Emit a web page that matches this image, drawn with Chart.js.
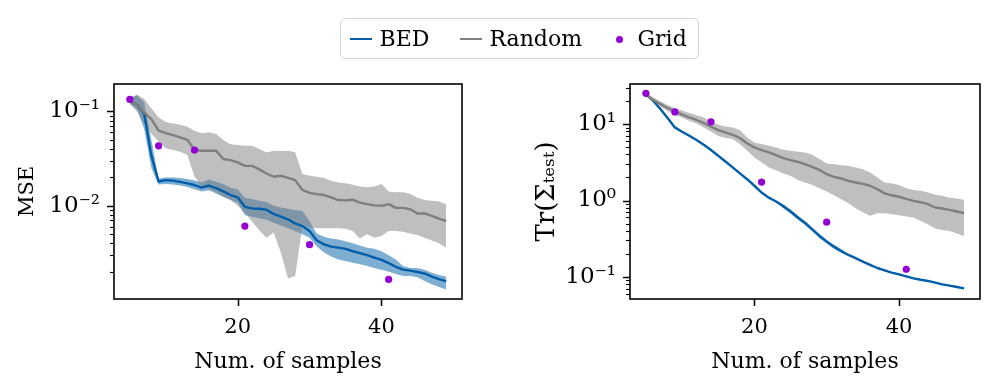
<!DOCTYPE html>
<html><head><meta charset="utf-8">
<script src="https://cdn.jsdelivr.net/npm/chart.js@4"></script>
<style>
html,body{margin:0;padding:0;background:#fff;}
body{width:997px;height:392px;overflow:hidden;position:relative;font-family:'DejaVu Serif',serif;}
canvas{position:absolute;top:0;}
#legend{position:absolute;left:340px;top:18px;width:357px;height:39px;border:1.5px solid #d4d4d4;border-radius:5px;background:#fff;}
.it{position:absolute;top:0;line-height:39px;font-size:22px;color:#000;white-space:nowrap;}
.ln{position:absolute;top:18.5px;width:22px;height:2.4px;}
.dot{position:absolute;top:16.5px;width:7px;height:7px;border-radius:50%;background:#9400d3;}
</style></head>
<body>
<canvas id="c1" width="498" height="392" style="left:0;width:498px;height:392px"></canvas>
<canvas id="c2" width="499" height="392" style="left:498px;width:499px;height:392px"></canvas>
<div id="legend">
  <div class="ln" style="left:8.5px;background:#005ea8"></div>
  <div class="it" style="left:38.5px">BED</div>
  <div class="ln" style="left:118.5px;background:#7f7f7f"></div>
  <div class="it" style="left:148.5px">Random</div>
  <div class="dot" style="left:275px"></div>
  <div class="it" style="left:296.5px">Grid</div>
</div>
<script>
// ---------- data ----------
const samples = [5,6,7,8,9,10,11,12,13,14,15,16,17,18,19,20,21,22,23,24,25,26,27,28,29,30,31,32,33,34,35,36,37,38,39,40,41,42,43,44,45,46,47,48,49];
const gridSamples = [5,9,14,21,30,41];

// MSE panel
const bedMse   = [0.130,0.118,0.094,0.034,0.0181,0.0187,0.0185,0.0179,0.0173,0.0166,0.0156,0.0164,0.0154,0.0142,0.0130,0.0123,0.00975,0.0094,0.0093,0.0091,0.0082,0.0077,0.0072,0.0065,0.0061,0.0054,0.0043,0.0039,0.0037,0.0036,0.0035,0.0033,0.00315,0.0030,0.00283,0.00268,0.00247,0.00226,0.00211,0.00206,0.00199,0.00192,0.00178,0.00167,0.00158];
const bedMseLo = [0.122,0.105,0.065,0.025,0.0168,0.0170,0.0168,0.0164,0.0158,0.0150,0.0142,0.0146,0.0135,0.0125,0.0115,0.0108,0.0080,0.0076,0.0074,0.0071,0.0066,0.0062,0.0058,0.0054,0.0050,0.0046,0.0037,0.0032,0.0029,0.0027,0.0026,0.0025,0.0024,0.0023,0.0022,0.0021,0.0020,0.0019,0.0018,0.0018,0.00175,0.0016,0.00148,0.00138,0.00130];
const bedMseHi = [0.138,0.148,0.125,0.050,0.0195,0.0200,0.0200,0.0197,0.0192,0.0185,0.0178,0.0190,0.0180,0.0170,0.0155,0.0150,0.0122,0.0118,0.0113,0.0110,0.0100,0.0096,0.0093,0.0090,0.0088,0.0068,0.0051,0.0047,0.0045,0.0044,0.0042,0.0040,0.0038,0.0036,0.0035,0.0033,0.0030,0.0027,0.0023,0.0022,0.0022,0.0021,0.00195,0.00185,0.00178];
const rndMse   = [0.130,0.118,0.097,0.083,0.0624,0.059,0.056,0.053,0.050,0.039,0.0383,0.0383,0.0383,0.0313,0.0305,0.0288,0.0265,0.0265,0.0243,0.022,0.0203,0.0208,0.0198,0.0187,0.0147,0.0137,0.0133,0.0130,0.0123,0.0115,0.0114,0.0116,0.0108,0.0104,0.0101,0.0100,0.0104,0.0095,0.0095,0.0092,0.0083,0.0083,0.0078,0.0073,0.0069];
const rndMseLo = [0.120,0.100,0.075,0.058,0.048,0.0406,0.039,0.0373,0.0345,0.0204,0.0160,0.0150,0.0140,0.0125,0.0115,0.0100,0.0085,0.0068,0.0055,0.0046,0.0052,0.0032,0.0017,0.0018,0.0062,0.0059,0.0058,0.0058,0.0058,0.0058,0.0057,0.0054,0.0045,0.0050,0.0046,0.0048,0.0054,0.0054,0.0053,0.0051,0.0049,0.0046,0.0043,0.0040,0.0036];
const rndMseHi = [0.140,0.150,0.135,0.108,0.0863,0.077,0.0746,0.0723,0.0688,0.0624,0.0585,0.060,0.0575,0.0497,0.045,0.044,0.0433,0.0433,0.0399,0.0367,0.0383,0.038,0.0383,0.037,0.0217,0.0208,0.0203,0.0197,0.0184,0.0176,0.0173,0.0167,0.016,0.0157,0.016,0.017,0.0142,0.0139,0.0139,0.0133,0.0122,0.0115,0.0113,0.0111,0.0104];
const gridMse  = [0.134,0.0432,0.0389,0.0061,0.00387,0.00166];

// Trace panel
const bedTr   = [24.5,20.2,15.7,12.0,9.04,7.94,7.03,6.17,5.36,4.57,3.85,3.24,2.71,2.26,1.90,1.56,1.27,1.09,0.97,0.843,0.718,0.599,0.51,0.42,0.344,0.29,0.249,0.219,0.194,0.176,0.159,0.144,0.131,0.122,0.114,0.108,0.102,0.096,0.092,0.0887,0.0843,0.080,0.077,0.074,0.071];
const bedTrLo = [24.0,19.8,15.4,11.8,8.86,7.78,6.89,6.05,5.25,4.48,3.77,3.18,2.66,2.21,1.86,1.53,1.24,1.07,0.95,0.79,0.675,0.563,0.48,0.395,0.323,0.273,0.234,0.206,0.19,0.172,0.156,0.141,0.128,0.12,0.112,0.106,0.1,0.094,0.09,0.087,0.0826,0.0784,0.0755,0.0725,0.0696];
const bedTrHi = [25.0,20.6,16.0,12.2,9.22,8.1,7.17,6.29,5.47,4.66,3.93,3.3,2.76,2.31,1.94,1.59,1.3,1.11,0.99,0.894,0.761,0.635,0.541,0.445,0.365,0.307,0.264,0.232,0.198,0.18,0.162,0.147,0.134,0.124,0.116,0.11,0.104,0.098,0.094,0.0905,0.086,0.0816,0.0785,0.0755,0.0724];
const rndTr   = [24.5,20.6,18.3,16.2,14.7,13.3,12.2,11.3,10.3,9.23,8.34,7.77,7.24,6.56,5.58,4.94,4.57,4.26,3.93,3.59,3.38,3.21,2.99,2.76,2.52,2.21,2.04,1.94,1.81,1.72,1.65,1.56,1.41,1.24,1.17,1.12,1.05,0.99,0.95,0.895,0.81,0.785,0.755,0.718,0.683];
const rndTrLo = [24.0,19.0,16.8,14.8,13.2,12.2,11.0,10.2,9.0,8.0,7.0,6.56,6.36,5.47,4.48,3.66,3.15,2.71,2.49,2.26,2.1,1.85,1.72,1.60,1.45,1.31,1.17,1.04,0.92,0.79,0.70,0.63,0.68,0.68,0.66,0.64,0.62,0.60,0.54,0.49,0.43,0.41,0.40,0.37,0.344];
const rndTrHi = [25.0,22.3,19.8,17.7,16.2,15.0,13.9,13.0,12.2,10.8,9.8,9.3,9.0,8.34,6.68,5.75,5.47,5.2,4.95,4.61,4.48,4.35,4.25,3.96,3.48,3.05,2.99,2.9,2.84,2.71,2.57,2.33,2.0,1.72,1.67,1.59,1.45,1.37,1.34,1.27,1.19,1.15,1.09,1.06,1.02];
const gridTr  = [25.2,14.4,10.7,1.74,0.52,0.126];

// ticks
const xTickValues = [20,40];
const mseMajorTicks = [0.01,0.1];
const mseMajorLabels = ['10⁻²','10⁻¹'];
const trMajorTicks = [0.1,1,10];
const trMajorLabels = ['10⁻¹','10⁰','10¹'];

// ---------- styles ----------
const BLUE='#005ea8', BLUE_FILL='rgba(0,94,168,0.5)';
const GRAY='#7f7f7f', GRAY_FILL='rgba(128,128,128,0.5)';
const PURPLE='#9400d3';
const FONT="'DejaVu Serif', serif";

function pts(xs, ys){ return xs.map((x,i)=>({x:x,y:ys[i]})); }

function logTicksBuilder(majors){
  return function(scale){
    const mn = scale.min, mx = scale.max;
    const out = [];
    const e0 = Math.floor(Math.log10(mn)), e1 = Math.ceil(Math.log10(mx));
    for(let e=e0;e<=e1;e++){
      for(let m=1;m<=9;m++){
        const v = m*Math.pow(10,e);
        if(v>=mn*0.999 && v<=mx*1.001){
          const isMaj = majors.some(t=>Math.abs(t-v)/t<1e-6);
          out.push({value:v, major:isMaj});
        }
      }
    }
    scale.ticks = out;
  };
}
function logLabel(majors, labels){
  return function(value){
    for(let i=0;i<majors.length;i++){ if(Math.abs(majors[i]-value)/majors[i]<1e-6) return labels[i]; }
    return '';
  };
}

const axesPlugin = {
  id:'axesFrame',
  afterDraw(chart){
    const {ctx, chartArea:a} = chart;
    const x = chart.scales.x, y = chart.scales.y;
    ctx.save();
    ctx.strokeStyle='#000';
    y.ticks.forEach(t=>{
      const py = Math.round(y.getPixelForValue(t.value))+0.5;
      const len = t.major?7:4;
      ctx.lineWidth = t.major?1.5:1.1;
      ctx.beginPath(); ctx.moveTo(a.left-len,py); ctx.lineTo(a.left,py); ctx.stroke();
    });
    x.ticks.forEach(t=>{
      const px = Math.round(x.getPixelForValue(t.value))+0.5;
      ctx.lineWidth = 1.5;
      ctx.beginPath(); ctx.moveTo(px,a.bottom); ctx.lineTo(px,a.bottom+7); ctx.stroke();
    });
    ctx.lineWidth = 1.6;
    ctx.strokeRect(a.left, a.top, a.right-a.left, a.bottom-a.top);
    ctx.restore();
  }
};

function makePanel(canvasId, o){
  const ctx = document.getElementById(canvasId).getContext('2d');
  return new Chart(ctx, {
    type:'line',
    data:{ datasets:[
      {label:'bedHi', data:pts(samples,o.bedHi), borderWidth:0, pointRadius:0, fill:false, order:6},
      {label:'bedLo', data:pts(samples,o.bedLo), borderWidth:0, pointRadius:0, fill:'-1', backgroundColor:BLUE_FILL, order:6},
      {label:'rndHi', data:pts(samples,o.rndHi), borderWidth:0, pointRadius:0, fill:false, order:5},
      {label:'rndLo', data:pts(samples,o.rndLo), borderWidth:0, pointRadius:0, fill:'-1', backgroundColor:GRAY_FILL, order:5},
      {label:'BED', data:pts(samples,o.bed), borderColor:BLUE, borderWidth:2.4, pointRadius:0, fill:false, tension:0, order:3},
      {label:'Random', data:pts(samples,o.rnd), borderColor:GRAY, borderWidth:2.4, pointRadius:0, fill:false, tension:0, order:2},
      {label:'Grid', data:pts(gridSamples,o.grid), showLine:false, pointRadius:3.6, pointBackgroundColor:PURPLE, pointBorderWidth:0, borderColor:PURPLE, order:0}
    ]},
    options:{
      responsive:false, animation:false, devicePixelRatio:1,
      layout:{padding:{left:0, top:84, right:o.padRight, bottom:0}},
      plugins:{legend:{display:false}, tooltip:{enabled:false}},
      elements:{line:{borderJoinStyle:'round'}},
      scales:{
        x:{
          type:'linear', min:2.8, max:51.2,
          afterBuildTicks:(s)=>{ s.ticks = xTickValues.map(v=>({value:v})); },
          afterFit:(s)=>{ s.height = 93; },
          grid:{display:false, drawTicks:true, tickLength:7},
          border:{display:false},
          ticks:{padding:9, color:'#000', font:{family:FONT, size:21}, autoSkip:false, maxRotation:0},
          title:{display:true, text:'Num. of samples', color:'#000', font:{family:FONT, size:22}, padding:{top:0,bottom:17}}
        },
        y:{
          type:'logarithmic', min:o.ymin, max:o.ymax,
          afterBuildTicks: logTicksBuilder(o.majors),
          afterFit:(s)=>{ s.width = o.yWidth; },
          grid:{display:false, drawTicks:true, tickLength:7},
          border:{display:false},
          ticks:{padding:7, color:'#000', font:{family:FONT, size:23}, autoSkip:false, callback: logLabel(o.majors, o.labels)},
          title:{display:true, text:o.ytitle, color:'#000', font:{family:FONT, size:o.ytitleSize}, padding:{top:o.ytitlePad, bottom:0}}
        }
      }
    },
    plugins:[axesPlugin]
  });
}

makePanel('c1', {bed:bedMse, bedLo:bedMseLo, bedHi:bedMseHi, rnd:rndMse, rndLo:rndMseLo, rndHi:rndMseHi, grid:gridMse,
  ymin:0.00103, ymax:0.195, majors:mseMajorTicks, labels:mseMajorLabels, yWidth:114, padRight:36,
  ytitle:'MSE', ytitleSize:21, ytitlePad:15.4});
makePanel('c2', {bed:bedTr, bedLo:bedTrLo, bedHi:bedTrHi, rnd:rndTr, rndLo:rndTrLo, rndHi:rndTrHi, grid:gridTr,
  ymin:0.0515, ymax:33.4, majors:trMajorTicks, labels:trMajorLabels, yWidth:132, padRight:17,
  ytitle:'Tr(Σₜₑₛₜ)', ytitleSize:26, ytitlePad:34});
</script>
</body></html>
